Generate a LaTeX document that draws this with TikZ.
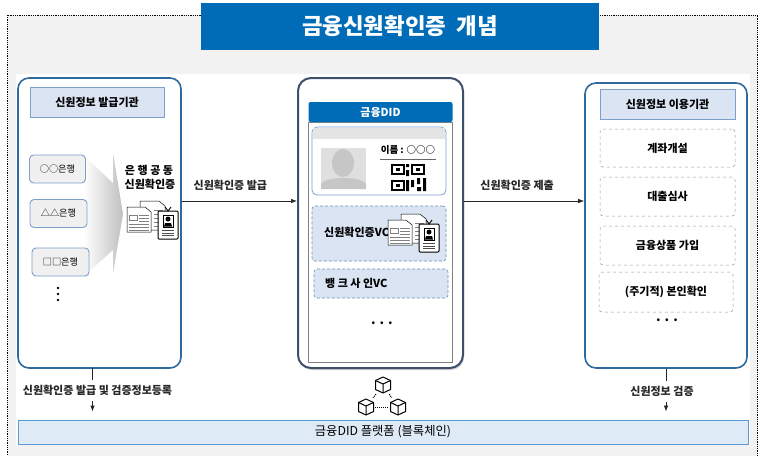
\documentclass[tikz,border=0pt]{standalone}
\usepackage{fontspec}
\setmainfont{Noto Sans CJK KR}
\usepackage{xcolor}
\usetikzlibrary{arrows.meta,calc,positioning,shadows}
\definecolor{titleblue}{HTML}{006CB7}
\definecolor{edgeblue}{HTML}{2F6A9E}
\definecolor{softblue}{HTML}{DAE4F3}
\definecolor{softedge}{HTML}{7F9FCB}
\definecolor{phoneedge}{HTML}{3D5069}
\definecolor{platformfill}{HTML}{DEEAF6}
\definecolor{platformedge}{HTML}{5B9BD5}
\tikzset{
	x=1pt,y=-1pt,
	panel/.style ={draw=edgeblue, line width=1.6pt, fill=white, rounded corners=11pt, inner sep=0pt},
	headbox/.style ={draw=softedge, line width=0.8pt, fill=softblue, inner sep=0pt, font=\fontsize{11}{13}\selectfont\bfseries},
	bankbox/.style ={draw=softedge, line width=0.9pt, fill=white!94!black, rounded corners=4pt, inner sep=0pt, font=\fontsize{9.2}{11}\selectfont},
	usebox/.style ={draw=gray!80, dashed, line width=0.5pt, fill=white, rounded corners=3pt, inner sep=0pt, minimum width=135pt, font=\fontsize{11}{13}\selectfont\bfseries},
	vcbox/.style ={draw=softedge!90!black, densely dashed, line width=0.6pt, fill=softblue, rounded corners=3pt, inner sep=0pt, font=\fontsize{11}{13}\selectfont\bfseries},
	txt/.style ={inner sep=1pt, font=\fontsize{11}{13}\selectfont\bfseries},
	gaplabel/.style ={txt, fill=white, minimum height=21pt},
	link/.style ={-{Latex[length=6pt,width=4.5pt]}, line width=0.7pt, black!85},
	dotlink/.style ={densely dotted, line width=1pt},
	cube/.style ={minimum size=18pt, inner sep=0pt, path picture={
		\coordinate (c) at (path picture bounding box.center);
		\draw[line width=1pt, fill=white, line join=round] ($(c)+(0,-8)$) -- ($(c)+(7.5,-4.5)$) -- ($(c)+(7.5,4.5)$) -- ($(c)+(0,8)$) -- ($(c)+(-7.5,4.5)$) -- ($(c)+(-7.5,-4.5)$) -- cycle;
		\draw[line width=1pt] ($(c)+(-7.5,-4.5)$) -- ($(c)+(0,-1)$) -- ($(c)+(7.5,-4.5)$) ($(c)+(0,-1)$) -- ($(c)+(0,8)$);
	}},
	docicon/.pic ={
		\draw[line width=0.5pt, fill=white] (13,1) -- (32,1) -- (38,6) -- (38,30) -- (13,30) -- cycle;
		\foreach \yy in {10,14,18,22,26} \draw[gray, line width=0.6pt] (27,\yy) -- (36,\yy);
		\draw[line width=0.5pt, fill=white] (0,7) -- (18,7) -- (24,12) -- (24,32) -- (0,32) -- cycle;
		\draw[gray, line width=0.5pt] (2,15) rectangle (10,20);
		\foreach \yy in {15,18,21} \draw[gray, line width=0.6pt] (12,\yy) -- (22,\yy);
		\foreach \yy in {24,27,30} \draw[gray, line width=0.6pt] (2,\yy) -- (22,\yy);
		\draw[line width=1pt, fill=white, rounded corners=1pt] (31,11) rectangle (51,39);
		\draw[line width=0.9pt] (38,7) -- (41,11) -- (44,7);
		\draw[line width=0.9pt, fill=white] (36,15) rectangle (46,27);
		\fill[black] (41,19) circle (2.5);
		\fill[black] (37,26.5) -- (38,23) -- (44,23) -- (45,26.5) -- cycle;
		\foreach \yy in {30,33,35.5} \draw[gray!60!black, line width=0.7pt] (35,\yy) -- (47,\yy);
	}
}

\begin{document}
\begin{tikzpicture}
    \useasboundingbox (0,0) rectangle (768,455);
    \fill[white] (0,0) rectangle (768,455);
    \draw[densely dotted, line width=0.8pt, fill=white!95!black] (7.5,15) rectangle (757.5,458);
    \fill[white] (16,74) rectangle (750,445);
    \node[fill=titleblue, text=white, inner sep=0pt, minimum width=398pt, minimum height=47pt, font=\fontsize{22.4}{24}\selectfont\bfseries] (title) at (400,26.5) {금융신원확인증~~개념};

    % issuer side
    \node[panel, minimum width=163pt, minimum height=290pt] (issuer) at (99.5,223) {};
    \node[headbox, minimum width=134pt, minimum height=30pt] (issuerhead) at (97,102) {신원정보 발급기관};
    \shade[left color=white, right color=gray!50] (84,156) -- (113,183) -- (113,153) -- (123,214) -- (113,273) -- (113,250) -- (84,276) -- cycle;
    \node[bankbox, minimum width=56pt, minimum height=28pt] (bankone) at (57.5,169) {○○은행};
    \node[bankbox, minimum width=57pt, minimum height=28pt] (banktwo) at (58.5,213.5) {△△은행};
    \node[bankbox, minimum width=57pt, minimum height=28pt] (bankthree) at (60.5,262) {□□은행};
    \foreach \yy in {288,294,300} \fill (58,\yy) circle (1.3);
    \node[txt] (commonone) at (149,170) {은 행 공 동};
    \node[txt] (commontwo) at (150,184) {신원확인증};
    \pic (issuedoc) at (127,200) {docicon};

    % wallet
    \node[panel, draw=phoneedge, line width=2pt, rounded corners=13pt, minimum width=165pt, minimum height=290pt, drop shadow={shadow xshift=1pt,shadow yshift=-2pt,opacity=.35}] (phone) at (380.5,223) {};
    \node[draw=gray, line width=1pt, fill=white, inner sep=0pt, minimum width=144pt, minimum height=240pt] (screen) at (380.5,242) {};
    \node[fill=titleblue, text=white, rounded corners=2pt, inner sep=0pt, minimum width=144pt, minimum height=20pt, font=\fontsize{11}{13}\selectfont\bfseries] (didhead) at (380.5,112) {금융DID};
    \node[draw=softedge, line width=0.8pt, fill=white, rounded corners=5pt, inner sep=0pt, minimum width=134pt, minimum height=68pt] (card) at (379,161) {};
    \fill[gray!20] ([xshift=1pt,yshift=-1pt]card.north west) rectangle ([xshift=-1pt,yshift=-12pt]card.north east);
    \node[fill=gray!25, inner sep=0pt, minimum width=45pt, minimum height=41pt] (photo) at (343.5,168.5) {};
    \fill[gray!45] (343,163) ellipse (11 and 14);
    \fill[gray!45] (321,189) -- (321,184) .. controls (326,176) and (361,176) .. (366,184) -- (366,189) -- cycle;
    \node[txt, font=\fontsize{9.5}{11}\selectfont\bfseries] (name) at (408,150) {이름 : ○○○};
    \draw[gray!80!black, line width=0.6pt] (380,159) -- (436,159);
    % qr code
    \foreach \xx/\yy in {391/164,411/164,391/180} {
        \draw[line width=1.8pt] (\xx+1,\yy+1) rectangle (\xx+13,\yy+10);
        \fill (\xx+5,\yy+4) rectangle (\xx+9,\yy+7);
    }
    \fill (406,164) rectangle (409,167) (406,170) rectangle (409,176) (406,180) rectangle (409,191) (411,180) rectangle (414,187) (417,187) rectangle (421,191) (423,178) rectangle (426,191) (417,178) rectangle (420,184);
    \node[vcbox, minimum width=134pt, minimum height=55pt] (vcone) at (379,233.5) {};
    \node[txt, anchor=west] (vconetext) at (323,232) {신원확인증VC};
    \pic (walletdoc) at (388,213) {docicon};
    \node[vcbox, minimum width=134pt, minimum height=29pt] (vctwo) at (381,283.5) {};
    \node[txt, anchor=west] (vctwotext) at (324,283) {뱅 크 사 인VC};
    \node[txt, font=\fontsize{13}{14}\selectfont\bfseries] (walletdots) at (382,323) {. . .};

    % verifier side
    \node[panel, minimum width=162pt, minimum height=285pt] (verifier) at (666,225.5) {};
    \node[headbox, minimum width=135pt, minimum height=30pt] (verifierhead) at (667.5,104) {신원정보 이용기관};
    \node[usebox, minimum height=38pt] (useone) at (667.5,148) {계좌개설};
    \node[usebox, minimum height=39pt] (usetwo) at (667.5,196.5) {대출심사};
    \node[usebox, minimum height=39pt] (usethree) at (667.5,245.5) {금융상품 가입};
    \node[usebox, minimum width=134pt, minimum height=40pt] (usefour) at (666,292) {(주기적) 본인확인};
    \node[txt, font=\fontsize{13}{14}\selectfont\bfseries] (verifierdots) at (667,320) {. . .};

    % platform
    \node[draw=platformedge, line width=1pt, fill=platformfill, inner sep=0pt, minimum width=730pt, minimum height=24pt, font=\fontsize{12.3}{14}\selectfont] (platform) at (383,432) {금융DID 플랫폼 (블록체인)};

    \node[cube] (cubetop) at (383,385) {};
    \node[cube] (cubeleft) at (366,407) {};
    \node[cube] (cuberight) at (398,407) {};
    \path[dotlink] (cubetop) edge (cubeleft) edge (cuberight);
    \path[dotlink] (cubeleft) edge (cuberight);

    % connectors
    \draw[link] (issuer.east |- 0,201) -- node[txt, above=9pt, xshift=-9pt] {신원확인증 발급} (phone.west |- 0,201);
    \draw[link] (phone.east |- 0,201) -- node[txt, above=9pt, xshift=-7pt] {신원확인증 제출} (verifier.west |- 0,201);
    \coordinate (issuefoot) at (92.5,368);
    \draw[link, shorten >=8pt] (issuefoot) -- node[gaplabel, pos=0.44, xshift=5pt] {신원확인증 발급 및 검증정보등록} (issuefoot |- platform.north);
    \draw[link, shorten >=8pt] (verifier.south) -- node[gaplabel, pos=0.44, xshift=-4pt] {신원정보 검증} (verifier.south |- platform.north);
\end{tikzpicture}
\end{document}
